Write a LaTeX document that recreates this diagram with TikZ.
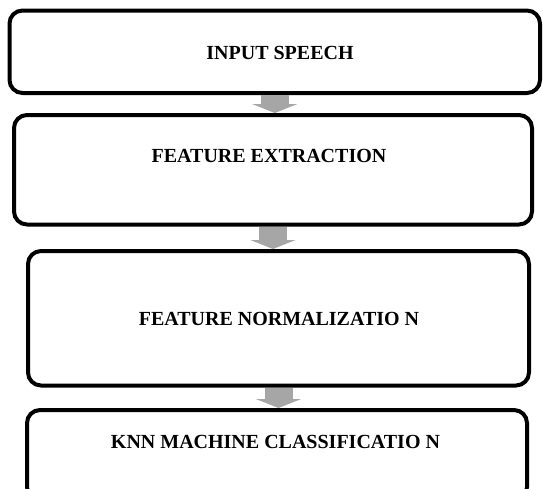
\documentclass[tikz,border=0pt]{standalone}
\usepackage{fontspec}
\setmainfont{Liberation Serif}
\usetikzlibrary{arrows.meta,calc}
\begin{document}
\begin{tikzpicture}[x=1pt,y=-1pt,
  box/.style={draw=black, line width=4pt, rounded corners=13pt, inner sep=0pt, anchor=center},
  lbl/.style={font=\fontsize{20}{24}\selectfont\bfseries, inner sep=0pt, anchor=base},
  flow/.style={draw=gray!70, line width=28pt, -{Triangle[width=45pt,length=9pt]}}]
\useasboundingbox (0,0) rectangle (543,488);
\clip (0,0) rectangle (543,488);
\node[box, minimum width=530.5pt, minimum height=82.5pt] (b1) at (274.75,51.75) {};
\node[box, minimum width=518pt, minimum height=109.5pt] (b2) at (273,169.75) {};
\node[box, minimum width=501pt, minimum height=134.5pt] (b3) at (278.5,318.25) {};
\node[box, minimum width=500pt, minimum height=90pt] (b4) at (277,455) {};
\node[lbl] (t1) at (280,59) {INPUT SPEECH};
\node[lbl] (t2) at (269,162) {FEATURE EXTRACTION};
\node[lbl] (t3) at (279,325) {FEATURE NORMALIZATIO N};
\node[lbl] (t4) at (275.5,448) {KNN MACHINE CLASSIFICATIO N};
\draw[flow] (b1.south) -- (b1.south |- b2.north);
\draw[flow] (b2.south) -- (b2.south |- b3.north);
\draw[flow] (b3.south) -- (b3.south |- b4.north);
\end{tikzpicture}
\end{document}
